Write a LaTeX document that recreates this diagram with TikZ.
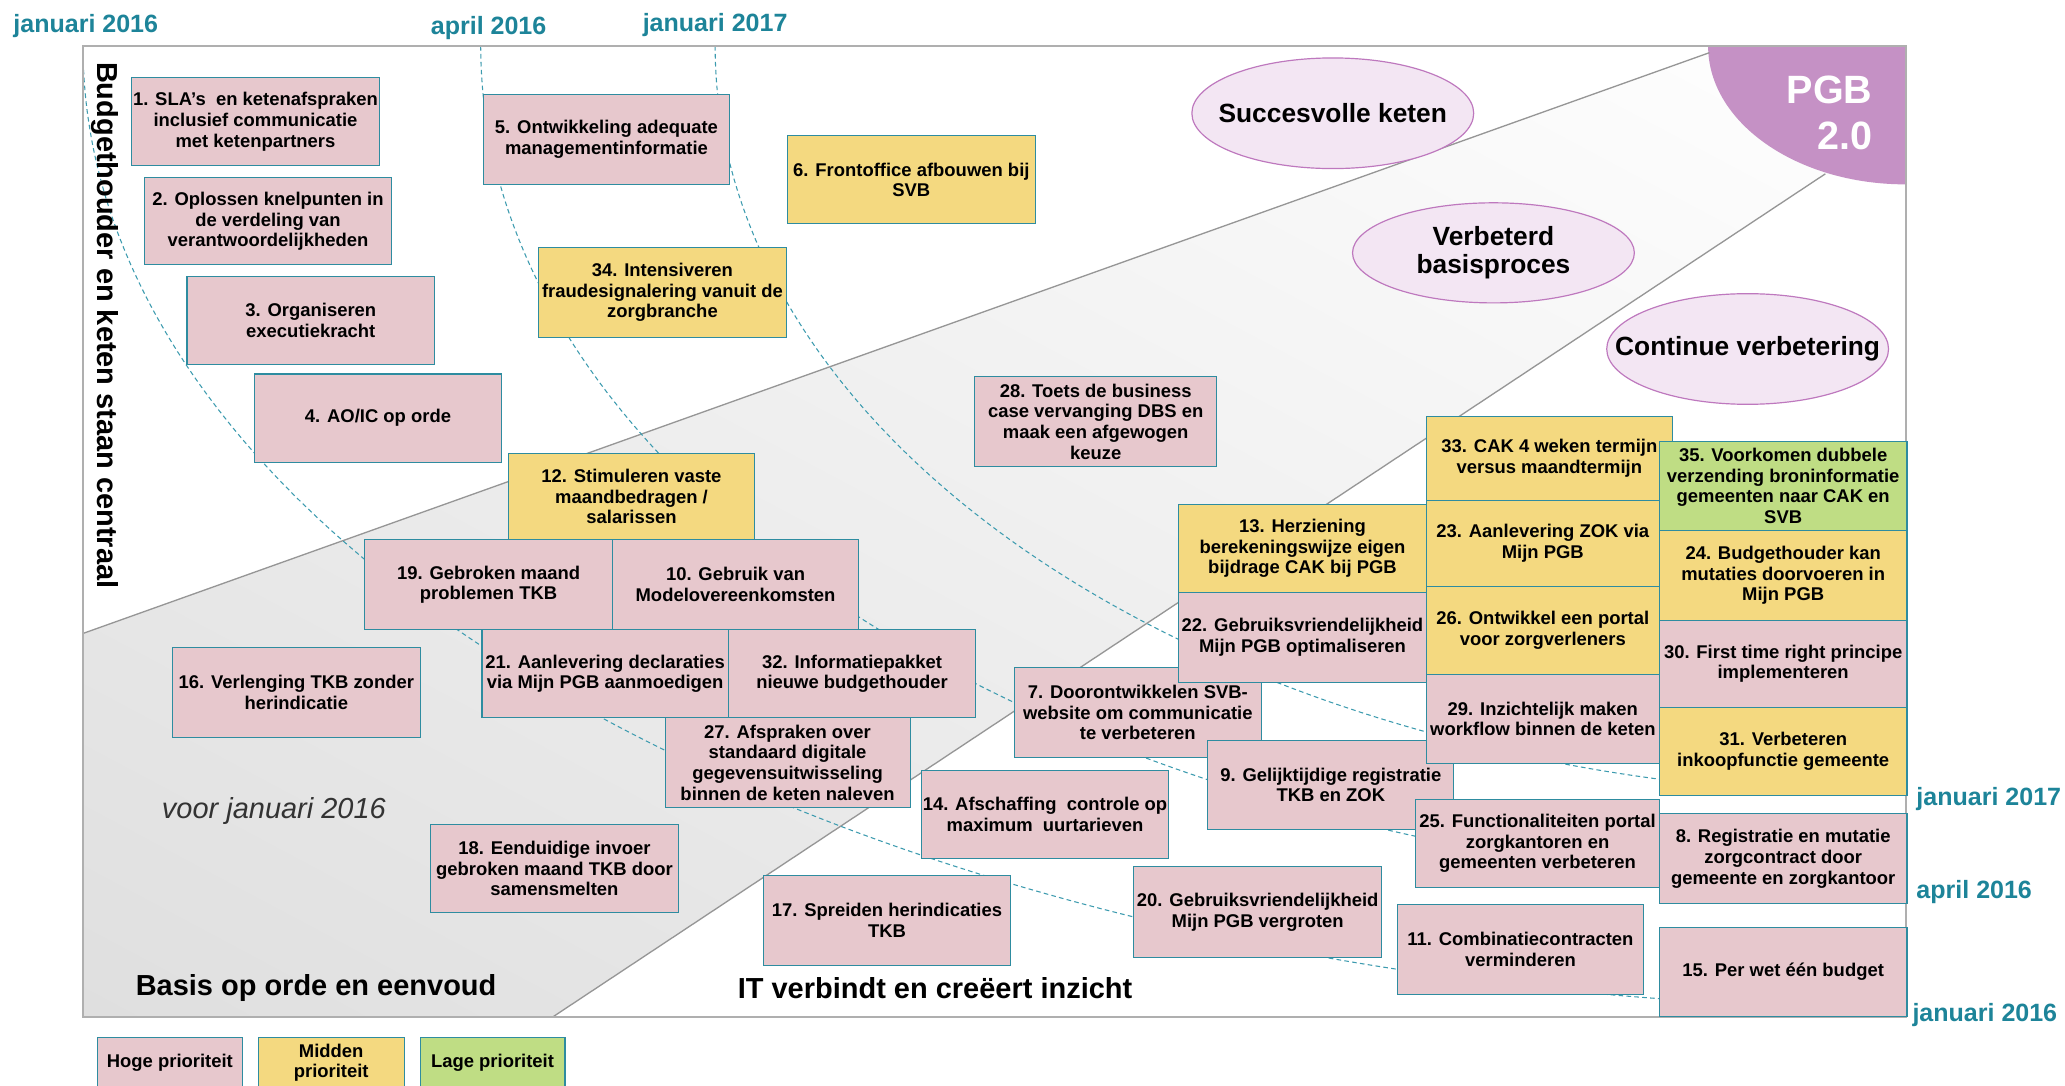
\documentclass[tikz,border=0pt]{standalone}
\usepackage{fontspec}
\setmainfont{Liberation Sans}
\usetikzlibrary{shapes.geometric,shadings}
\definecolor{pinkf}{RGB}{231,200,205}
\definecolor{yelf}{RGB}{244,217,128}
\definecolor{grnf}{RGB}{191,221,132}
\definecolor{bord}{RGB}{46,140,160}
\definecolor{teal1}{RGB}{29,132,153}
\definecolor{dashc}{RGB}{60,155,175}
\definecolor{ellf}{RGB}{243,230,243}
\definecolor{elld}{RGB}{190,120,190}
\definecolor{pgbf}{RGB}{197,145,197}
\definecolor{framec}{RGB}{175,175,175}
\definecolor{diagc}{RGB}{150,150,150}
\definecolor{shadeg}{RGB}{223,223,223}
\definecolor{shadem}{RGB}{239,239,239}
\newcommand\abox[7]{\node[boxs,fill=#2,minimum width={#5-#3},minimum height={#6-#4}] (#1) at ({(#3+#5)/2},{(#4+#6)/2}) {#7};}
\begin{document}
\begin{tikzpicture}[x=1pt,y=-1pt,
  boxs/.style={draw=bord, line width=0.8pt, font=\bfseries\fontsize{14}{15.7}\selectfont, align=center, inner sep=1pt, text=black},
  timecurve/.style={dashc, dash pattern=on 3.5pt off 2.5pt, line width=0.8pt},
  datelab/.style={text=teal1, font=\bfseries\fontsize{19}{22}\selectfont, inner sep=0pt},
  ellshape/.style={draw=elld, fill=ellf, line width=0.9pt},
  elltext/.style={font=\bfseries\fontsize{20}{21}\selectfont, align=center, inner sep=0pt},
  zonetext/.style={font=\bfseries\fontsize{22}{24}\selectfont, inner sep=0pt},
  diag/.style={draw=diagc, line width=1pt}]
\useasboundingbox (0,0) rectangle (1568,824);
\clip (0,0) rectangle (1568,824);
\fill[white] (0,0) rectangle (1568,824);
% zones
\begin{scope}
\clip (63,35) rectangle (1447,772);
\shade[lower left=shadeg, upper left=shadem, lower right=shadem, upper right=white]
  (63,481) -- (1298,40) -- (1447,35) -- (1447,139) -- (1386,132) -- (420,772) -- (63,772) -- cycle;
\fill[pgbf] (1447,35) ellipse [x radius=150, y radius=105];
\end{scope}
\draw[diag] (63,481) -- (1298,40);
\draw[diag] (420,772) -- (1386,132);
% time curves
\draw[timecurve] plot[domain=0:90, samples=90, smooth] ({1447-1384*cos(\x)},{35+730*sin(\x)});
\draw[timecurve] plot[domain=0:90, samples=90, smooth] ({1447-1082*cos(\x)},{35+639*sin(\x)});
\draw[timecurve] plot[domain=0:90, samples=90, smooth] ({1447-904*cos(\x)},{35+569*sin(\x)});
% frame
\draw[framec, line width=1.3pt] (63,35) rectangle (1447,772);
% boxes
\abox{b1}{pinkf}{100}{59}{288}{126}{1. SLA’s\ \ en ketenafspraken\\inclusief communicatie\\met ketenpartners}
\abox{b2}{pinkf}{110}{135}{297}{201}{2. Oplossen knelpunten in\\de verdeling van\\verantwoordelijkheden}
\abox{b3}{pinkf}{142}{210}{330}{277}{3. Organiseren\\executiekracht}
\abox{b4}{pinkf}{193}{284}{381}{351}{4. AO/IC op orde}
\abox{b5}{pinkf}{367}{72}{554}{140}{5. Ontwikkeling adequate\\managementinformatie}
\abox{b6}{yelf}{598}{103}{786}{170}{6. Frontoffice afbouwen bij\\SVB}
\abox{b34}{yelf}{409}{188}{597}{256}{34. Intensiveren\\fraudesignalering vanuit de\\zorgbranche}
\abox{b12}{yelf}{386}{344}{573}{410}{12. Stimuleren vaste\\maandbedragen /\\salarissen}
\abox{b19}{pinkf}{277}{410}{465}{478}{19. Gebroken maand\\problemen TKB}
\abox{b10}{pinkf}{465}{410}{652}{478}{10. Gebruik van\\Modelovereenkomsten}
\abox{b21}{pinkf}{366}{478}{553}{545}{21. Aanlevering declaraties\\via Mijn PGB aanmoedigen}
\abox{b32}{pinkf}{553}{478}{741}{545}{32. Informatiepakket\\nieuwe budgethouder}
\abox{b27}{pinkf}{505}{545}{691}{613}{27. Afspraken over\\standaard digitale\\gegevensuitwisseling\\binnen de keten naleven}
\abox{b16}{pinkf}{131}{492}{319}{560}{16. Verlenging TKB zonder\\herindicatie}
\abox{b18}{pinkf}{327}{626}{515}{693}{18. Eenduidige invoer\\gebroken maand TKB door\\samensmelten}
\abox{b28}{pinkf}{740}{286}{924}{354}{28. Toets de business\\case vervanging DBS en\\maak een afgewogen\\keuze}
\abox{b7}{pinkf}{770}{507}{958}{575}{7. Doorontwikkelen SVB-\\website om communicatie\\te verbeteren}
\abox{b14}{pinkf}{700}{585}{887}{652}{14. Afschaffing\ \ controle op\\maximum\ \ uurtarieven}
\abox{b17}{pinkf}{580}{665}{767}{733}{17. Spreiden herindicaties\\TKB}
\abox{b9}{pinkf}{917}{562}{1104}{630}{9. Gelijktijdige registratie\\TKB en ZOK}
\abox{b20}{pinkf}{861}{658}{1049}{727}{20. Gebruiksvriendelijkheid\\Mijn PGB vergroten}
\abox{b13}{yelf}{895}{383}{1083}{450}{13. Herziening\\berekeningswijze eigen\\bijdrage CAK bij PGB}
\abox{b22}{pinkf}{895}{450}{1083}{518}{22. Gebruiksvriendelijkheid\\Mijn PGB optimaliseren}
\abox{b33}{yelf}{1083}{316}{1270}{380}{33. CAK 4 weken termijn\\versus maandtermijn}
\abox{b23}{yelf}{1083}{380}{1260}{445}{23. Aanlevering ZOK via\\Mijn PGB}
\abox{b26}{yelf}{1083}{445}{1260}{512}{26. Ontwikkel een portal\\voor zorgverleners}
\abox{b29}{pinkf}{1083}{512}{1260}{580}{29. Inzichtelijk maken\\workflow binnen de keten}
\abox{b25}{pinkf}{1075}{607}{1260}{674}{25. Functionaliteiten portal\\zorgkantoren en\\gemeenten verbeteren}
\abox{b11}{pinkf}{1061}{687}{1248}{755}{11. Combinatiecontracten\\verminderen}
\abox{b35}{grnf}{1260}{335}{1448}{403}{35. Voorkomen dubbele\\verzending broninformatie\\gemeenten naar CAK en\\SVB}
\abox{b24}{yelf}{1260}{403}{1448}{471}{24. Budgethouder kan\\mutaties doorvoeren in\\Mijn PGB}
\abox{b30}{pinkf}{1260}{471}{1448}{537}{30. First time right principe\\implementeren}
\abox{b31}{yelf}{1260}{537}{1448}{604}{31. Verbeteren\\inkoopfunctie gemeente}
\abox{b8}{pinkf}{1260}{618}{1448}{686}{8. Registratie en mutatie\\zorgcontract door\\gemeente en zorgkantoor}
\abox{b15}{pinkf}{1260}{704}{1448}{772}{15. Per wet één budget}
% legend
\abox{lh}{pinkf}{74}{788}{184}{826}{Hoge prioriteit}
\abox{lm}{yelf}{196}{788}{307}{826}{Midden\\prioriteit}
\abox{ll}{grnf}{319}{788}{429}{826}{Lage prioriteit}
% ellipses
\draw[ellshape] (1012,86) ellipse [x radius=107, y radius=42];
\node[elltext] (e1) at (1012,86) {Succesvolle keten};
\draw[ellshape] (1134,192) ellipse [x radius=107, y radius=38];
\node[elltext] (e2) at (1134,192) {Verbeterd\\basisproces};
\draw[ellshape] (1327,265) ellipse [x radius=107, y radius=42];
\node[elltext] (e3) at (1327,265) {Continue verbetering};
% PGB
\node[font=\bfseries\fontsize{30}{35}\selectfont, text=white, align=right, anchor=east, inner sep=0pt] (pgb) at (1422,86) {PGB\\2.0};
% zone texts
\node[zonetext, rotate=-90] (vt) at (80,247) {Budgethouder en keten staan centraal};
\node[font=\itshape\fontsize{22}{24}\selectfont, text=black!80, inner sep=0pt] (vj) at (208,616) {voor januari 2016};
\node[zonetext] (z1) at (240,750) {Basis op orde en eenvoud};
\node[zonetext] (z2) at (710,750) {IT verbindt en creëert inzicht};
% date labels
\node[datelab, anchor=west] (d1) at (10,20) {januari 2016};
\node[datelab] (d2) at (371,21) {april 2016};
\node[datelab] (d3) at (543,19) {januari 2017};
\node[datelab, anchor=west] (d4) at (1455,607) {januari 2017};
\node[datelab, anchor=west] (d5) at (1455,677) {april 2016};
\node[datelab, anchor=west] (d6) at (1452,771) {januari 2016};
\end{tikzpicture}
\end{document}
